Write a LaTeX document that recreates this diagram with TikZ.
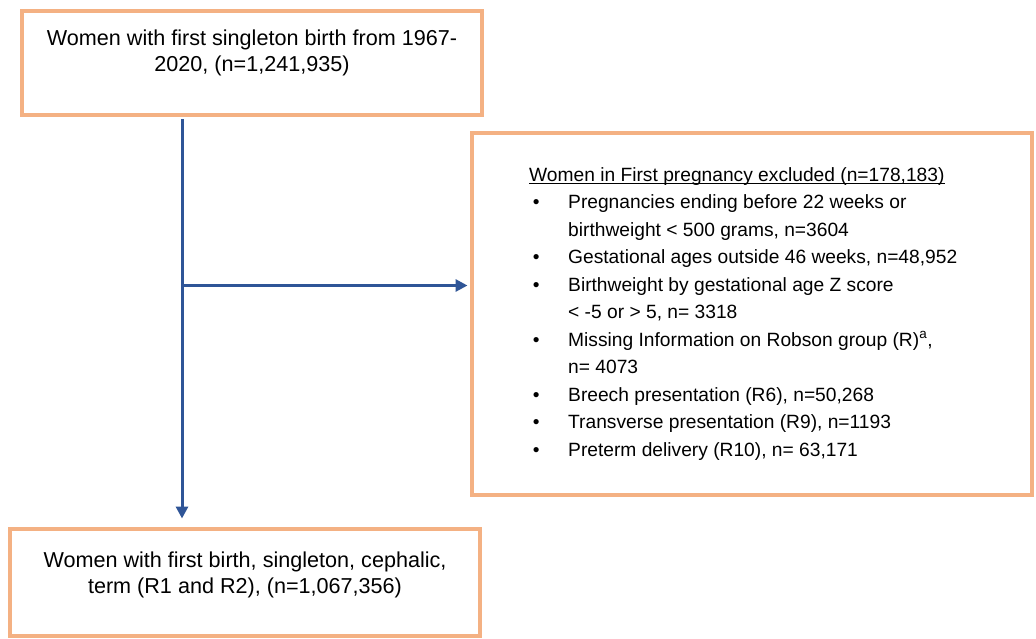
\documentclass[tikz,border=0pt]{standalone}
\usepackage{fontspec}
\setmainfont{Liberation Sans}
\usetikzlibrary{arrows.meta}
\definecolor{boxline}{RGB}{244,177,131}
\definecolor{flowline}{RGB}{47,85,151}
\newcommand{\bul}{\makebox[35.3pt][l]{\textbullet}}
\newcommand{\hang}{\hspace*{35.3pt}}
\begin{document}
\begin{tikzpicture}[x=1pt,y=-1pt,
  framebox/.style={draw=boxline, line width=4pt, fill=white, rectangle, inner sep=0pt},
  flow/.style={draw=flowline, line width=3pt, -{Triangle[length=12pt,width=12pt]}},
  bigtext/.style={font=\fontsize{21.6}{26.6}\selectfont, align=center, inner sep=0pt, anchor=base},
  listtext/.style={font=\fontsize{19.2}{27.5}\selectfont, align=left, inner sep=0pt, anchor=base west}]
\useasboundingbox (0,0) rectangle (1036,638);
\fill[white] (0,0) rectangle (1036,638);

% boxes
\node[framebox, minimum width=460pt, minimum height=104.5pt] (src) at (252,62.75) {};
\node[framebox, minimum width=560.5pt, minimum height=362pt] (excl) at (751.75,314) {};
\node[framebox, minimum width=470pt, minimum height=107pt] (dst) at (245,582.5) {};

% box texts (multi-line nodes are placed by the baseline of their last line)
\node[bigtext] (srctext) at (252,71.6) {Women with first singleton birth from 1967-\\2020, (n=1,241,935)};
\node[bigtext] (dsttext) at (245,593.6) {Women with first birth, singleton, cephalic,\\term (R1 and R2), (n=1,067,356)};

\node[listtext] (hd) at (529,181) {Women in First pregnancy excluded (n=178,183)};
\draw[line width=1.3pt] ([yshift=-2.6pt]hd.base west) -- ([yshift=-2.6pt]hd.base east);
\node[listtext] (i1) at (532.7,236) {\bul Pregnancies ending before 22 weeks or\\\hang birthweight < 500 grams, n=3604};
\node[listtext] (i2) at (532.7,263.5) {\bul Gestational ages outside 46 weeks, n=48,952};
\node[listtext] (i3) at (532.7,318.5) {\bul Birthweight by gestational age Z score\\\hang < -5 or > 5, n= 3318};
\node[listtext] (i4) at (532.7,373.5) {\bul Missing Information on Robson group (R)\textsuperscript{a},\\\hang n= 4073};
\node[listtext] (i5) at (532.7,401) {\bul Breech presentation (R6), n=50,268};
\node[listtext] (i6) at (532.7,428.5) {\bul Transverse presentation (R9), n=1193};
\node[listtext] (i7) at (532.7,456) {\bul Preterm delivery (R10), n= 63,171};

% connectors
\coordinate (spine) at (182,0);
\coordinate (branch) at (182,285.5);
\draw[flow, shorten <=2pt, shorten >=8.5pt] (src.south -| spine) -- (dst.north -| spine);
\draw[flow, shorten >=2pt] (branch) -- (branch -| excl.west);
\end{tikzpicture}
\end{document}
